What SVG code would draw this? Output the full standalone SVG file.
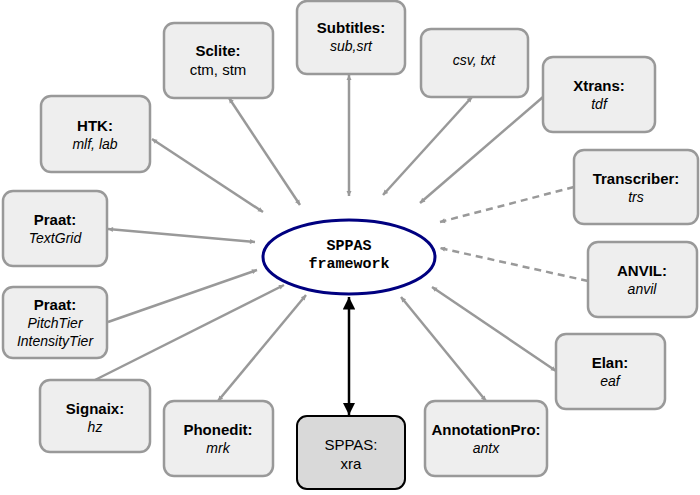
<svg xmlns="http://www.w3.org/2000/svg" width="700" height="495" viewBox="0 0 700 495">
<defs>
<marker id="ag" viewBox="0 0 10 10" refX="10" refY="5" markerWidth="5" markerHeight="5" orient="auto-start-reverse" markerUnits="userSpaceOnUse" style="overflow:visible"><path d="M0,0 L10,5 L0,10 z" fill="#999"/></marker>
<marker id="ak" viewBox="0 0 10 10" refX="10" refY="5" markerWidth="5" markerHeight="5" orient="auto-start-reverse"><path d="M0,0 L10,5 L0,10 z" fill="#000"/></marker>
<style>
.n rect{fill:#eeeeee;stroke:#999;stroke-width:2.5}
.t{font-family:"Liberation Sans",Arial,sans-serif;font-size:15px;text-anchor:middle;fill:#000}
.b{font-weight:bold}
.i{font-style:italic;font-size:14px}
.c line{stroke:#999;stroke-width:2.5}
</style>
</defs>
<g class="c">
<line x1="229" y1="98" x2="300" y2="205" marker-start="url(#ag)" marker-end="url(#ag)" style="--m:0"/>
<line x1="349" y1="75" x2="349" y2="196" marker-start="url(#ag)" marker-end="url(#ag)"/>
<line x1="472" y1="97" x2="383" y2="195" marker-start="url(#ag)" marker-end="url(#ag)"/>
<line x1="543" y1="97" x2="420" y2="203" marker-end="url(#ag)"/>
<line x1="152" y1="139" x2="263" y2="212" marker-start="url(#ag)" marker-end="url(#ag)"/>
<line x1="108" y1="229" x2="255" y2="242" marker-start="url(#ag)" marker-end="url(#ag)"/>
<line x1="574" y1="187" x2="440" y2="222" stroke-dasharray="7,5" marker-end="url(#ag)"/>
<line x1="588" y1="281" x2="440" y2="248" stroke-dasharray="7,5" marker-end="url(#ag)"/>
<line x1="108" y1="322" x2="257" y2="270" marker-end="url(#ag)"/>
<line x1="95" y1="380" x2="284" y2="285" marker-end="url(#ag)"/>
<line x1="218" y1="401" x2="306" y2="295" marker-start="url(#ag)" marker-end="url(#ag)"/>
<line x1="486" y1="401" x2="401" y2="297" marker-start="url(#ag)" marker-end="url(#ag)"/>
<line x1="556" y1="371" x2="432" y2="287" marker-start="url(#ag)" marker-end="url(#ag)"/>
<line x1="349" y1="415" x2="349" y2="297" style="stroke:#000" marker-start="url(#ak)" marker-end="url(#ak)"/>
</g>
<g id="center"><ellipse cx="349" cy="257" rx="86" ry="37" fill="#fff" stroke="#000080" stroke-width="3"/>
<text x="349" y="250" style="font-family:'Liberation Mono',monospace;font-weight:bold;font-size:15px;text-anchor:middle">SPPAS</text>
<text x="349" y="268" style="font-family:'Liberation Mono',monospace;font-weight:bold;font-size:15px;text-anchor:middle">framework</text></g>
<g id="sclite" class="n"><rect x="164" y="23" width="109" height="75" rx="10"/><text class="t b" x="218" y="56">Sclite:</text><text class="t" x="218" y="75">ctm, stm</text></g>
<g id="subtitles" class="n"><rect x="297" y="1" width="108" height="73" rx="10"/><text class="t b" x="351" y="33">Subtitles:</text><text class="t i" x="351" y="51">sub,srt</text></g>
<g id="csv" class="n"><rect x="421" y="29" width="107" height="68" rx="10"/><text class="t i" x="474" y="65">csv, txt</text></g>
<g id="xtrans" class="n"><rect x="543" y="57" width="112" height="75" rx="10"/><text class="t b" x="599" y="91">Xtrans:</text><text class="t i" x="599" y="109">tdf</text></g>
<g id="htk" class="n"><rect x="41" y="96" width="109" height="76" rx="10"/><text class="t b" x="95" y="131">HTK:</text><text class="t i" x="95" y="149">mlf, lab</text></g>
<g id="transcriber" class="n"><rect x="574" y="150" width="124" height="74" rx="10"/><text class="t b" x="636" y="184">Transcriber:</text><text class="t i" x="636" y="202">trs</text></g>
<g id="textgrid" class="n"><rect x="3" y="191" width="104" height="75" rx="10"/><text class="t b" x="55" y="225">Praat:</text><text class="t i" x="55" y="243">TextGrid</text></g>
<g id="anvil" class="n"><rect x="588" y="242" width="109" height="75" rx="10"/><text class="t b" x="642" y="276">ANVIL:</text><text class="t i" x="642" y="294">anvil</text></g>
<g id="pitchtier" class="n"><rect x="3" y="287" width="104" height="71" rx="10"/><text class="t b" x="55" y="310">Praat:</text><text class="t i" x="55" y="328">PitchTier</text><text class="t i" x="55" y="346">IntensityTier</text></g>
<g id="elan" class="n"><rect x="556" y="334" width="109" height="75" rx="10"/><text class="t b" x="610" y="368">Elan:</text><text class="t i" x="610" y="386">eaf</text></g>
<g id="signaix" class="n"><rect x="40" y="380" width="110" height="72" rx="10"/><text class="t b" x="95" y="414">Signaix:</text><text class="t i" x="95" y="432">hz</text></g>
<g id="phonedit" class="n"><rect x="164" y="401" width="109" height="75" rx="10"/><text class="t b" x="218" y="435">Phonedit:</text><text class="t i" x="218" y="453">mrk</text></g>
<g id="xra"><rect x="297" y="416" width="108" height="73" rx="10" fill="#d9d9d9" stroke="#000" stroke-width="2"/><text class="t" x="351" y="450">SPPAS:</text><text class="t" x="351" y="469">xra</text></g>
<g id="annotationpro" class="n"><rect x="425" y="401" width="122" height="75" rx="10"/><text class="t b" x="486" y="435">AnnotationPro:</text><text class="t i" x="486" y="453">antx</text></g>
</svg>
